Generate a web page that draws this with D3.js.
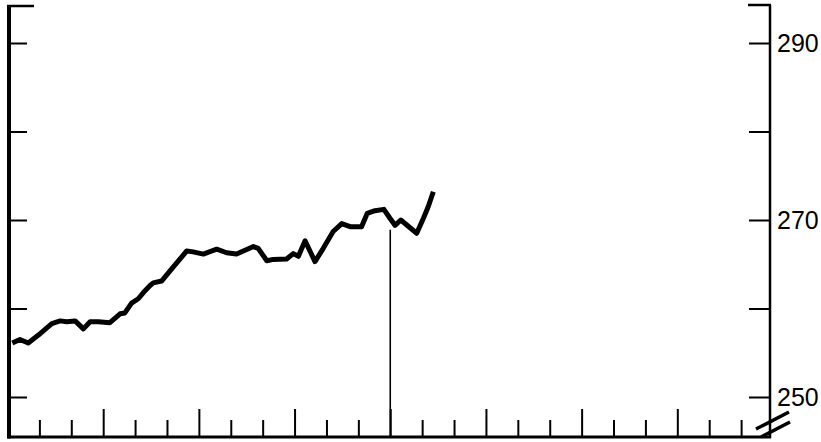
<!DOCTYPE html>
<html>
<head>
<meta charset="utf-8">
<script src="https://cdn.jsdelivr.net/npm/d3@7"></script>
<style>
  html, body { margin: 0; padding: 0; background: #fff; }
  svg { display: block; }
</style>
</head>
<body>
<svg id="chart" width="821" height="442"></svg>
<script>
// ---- data (months from the left edge, index value) ----
const months = [0.15,0.39,0.65,0.97,1.39,1.65,1.86,2.12,2.38,2.59,2.85,3.21,3.53,3.68,3.89,4.10,4.26,4.47,4.57,4.83,5.20,5.62,5.82,6.14,6.56,6.87,7.18,7.71,7.86,8.13,8.33,8.75,8.96,9.12,9.33,9.64,9.90,10.21,10.48,10.74,11.10,11.28,11.52,11.80,11.99,12.15,12.33,12.83,13.04,13.19,13.35];
const values = [256.1,256.5,256.1,257.0,258.3,258.6,258.5,258.6,257.7,258.5,258.5,258.4,259.4,259.5,260.6,261.1,261.8,262.6,262.9,263.1,264.7,266.5,266.4,266.15,266.7,266.3,266.15,267.0,266.8,265.4,265.55,265.6,266.2,265.9,267.65,265.3,266.8,268.7,269.6,269.25,269.25,270.75,271.05,271.2,270.2,269.4,270.0,268.5,270.2,271.5,273.2];
const yTicks = [250, 260, 270, 280, 290];
const yLabels = [250, 270, 290];
const monthTicks = d3.range(1, 24);
const markerMonth = 12;
const markerValue = 268.9;

// ---- layout ----
const svg = d3.select("#chart");
const x = d3.scaleLinear().domain([0, 24]).range([7.5, 773]);
const y = d3.scaleLinear().domain([250, 290]).range([397, 43]);
const leftX = 9, rightX = 770, topY = 5, bottomY = 437;

// frame lines
svg.append("line").attr("x1", leftX).attr("x2", leftX).attr("y1", topY).attr("y2", bottomY + 1.5)
  .attr("stroke", "#000").attr("stroke-width", 4);
svg.append("line").attr("x1", leftX - 2).attr("x2", 34).attr("y1", topY + 1).attr("y2", topY + 1)
  .attr("stroke", "#000").attr("stroke-width", 2.5);
svg.append("line").attr("x1", rightX).attr("x2", rightX).attr("y1", topY).attr("y2", bottomY + 1)
  .attr("stroke", "#000").attr("stroke-width", 2.5);
svg.append("line").attr("x1", 748).attr("x2", rightX + 1).attr("y1", topY).attr("y2", topY)
  .attr("stroke", "#000").attr("stroke-width", 2.5);
svg.append("line").attr("x1", leftX - 2).attr("x2", rightX + 1).attr("y1", bottomY).attr("y2", bottomY)
  .attr("stroke", "#000").attr("stroke-width", 3);

// left ticks (inward)
const gl = svg.append("g").attr("transform", `translate(${leftX},0)`)
  .call(d3.axisRight(y).tickValues(yTicks).tickSize(18).tickFormat(""));
gl.select(".domain").remove();
gl.selectAll(".tick line").attr("stroke", "#000").attr("stroke-width", 2);

// right ticks (inward)
const gr = svg.append("g").attr("transform", `translate(${rightX},0)`)
  .call(d3.axisLeft(y).tickValues(yTicks).tickSize(21).tickFormat(""));
gr.select(".domain").remove();
gr.selectAll(".tick line").attr("stroke", "#000").attr("stroke-width", 2);

// right labels
const glab = svg.append("g").attr("transform", `translate(${rightX},0)`)
  .call(d3.axisRight(y).tickValues(yLabels).tickSize(0).tickPadding(7).tickFormat(d3.format("d")));
glab.select(".domain").remove();
glab.selectAll(".tick text")
  .attr("fill", "#000")
  .style("font-family", "'Liberation Sans', Arial, Helvetica, sans-serif")
  .style("font-size", "25px");

// bottom month ticks (inward, quarters taller)
const gb = svg.append("g").attr("transform", `translate(0,${bottomY})`)
  .call(d3.axisTop(x).tickValues(monthTicks).tickSize(17).tickFormat(""));
gb.select(".domain").remove();
gb.selectAll(".tick line")
  .attr("stroke", "#000").attr("stroke-width", 2)
  .attr("y2", d => d % 3 === 0 ? -28 : -17);

// axis break mark
svg.append("line").attr("x1", 756).attr("y1", 429).attr("x2", 789).attr("y2", 412)
  .attr("stroke", "#000").attr("stroke-width", 3.5);
svg.append("line").attr("x1", 761).attr("y1", 437).attr("x2", 790).attr("y2", 422)
  .attr("stroke", "#000").attr("stroke-width", 3.5);

// marker line
svg.append("line")
  .attr("x1", x(markerMonth)).attr("x2", x(markerMonth))
  .attr("y1", y(markerValue)).attr("y2", bottomY)
  .attr("stroke", "#000").attr("stroke-width", 1.6);

// data line
const pts = months.map((m, i) => [m, values[i]]);
svg.append("path")
  .datum(pts)
  .attr("fill", "none")
  .attr("stroke", "#000")
  .attr("stroke-width", 5)
  .attr("stroke-linejoin", "round")
  .attr("stroke-linecap", "butt")
  .attr("d", d3.line().x(d => x(d[0])).y(d => y(d[1])));
</script>
</body>
</html>
